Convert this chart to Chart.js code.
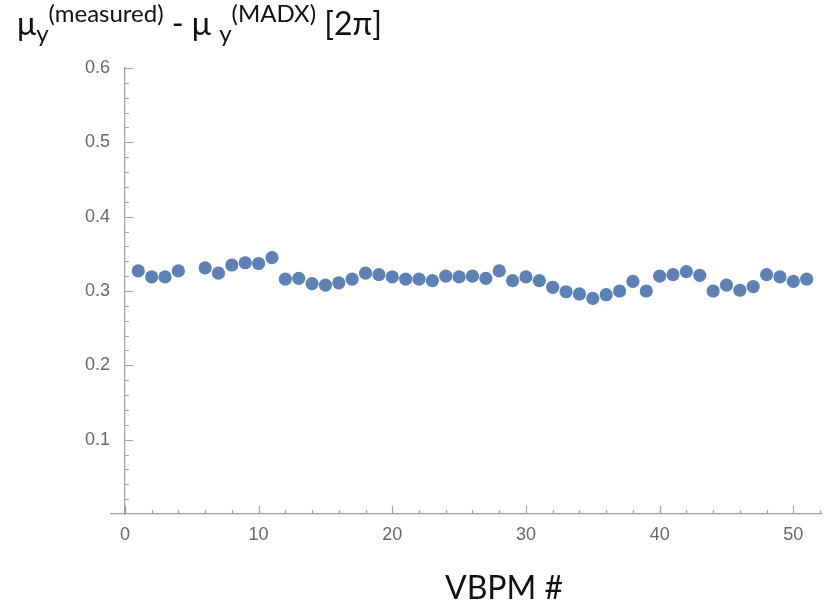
<!DOCTYPE html>
<html>
<head>
<meta charset="utf-8">
<script src="https://cdn.jsdelivr.net/npm/chart.js@4"></script>
<style>
  html, body { margin: 0; padding: 0; background: #fff; }
  #wrap { position: relative; width: 828px; height: 604px; }
  canvas { position: absolute; left: 0; top: 0; }
  .ttl { position: absolute; font-family: Lato, "Open Sans", sans-serif; color: #111; white-space: nowrap; line-height: 1; }
  .ttl sub, .ttl sup { font-size: 24px; line-height: 0; }
  .ttl sub { vertical-align: -7px; }
  .ttl sup { vertical-align: 13px; }
</style>
</head>
<body>
<div id="wrap">
  <canvas id="chart" width="828" height="604"></canvas>
  <div class="ttl" style="left:17px; top:7px; font-size:32px;">μ<sub>y</sub><sup>(measured)</sup> - μ <sub>y</sub><sup>(MADX)</sup> [2π]</div>
  <div class="ttl" style="left:445px; top:571px; font-size:32px;">VBPM #</div>
</div>
<script>
// VBPM index (no point at 5)
const bpm = [1, 2, 3, 4, 6, 7, 8, 9, 10, 11, 12, 13, 14, 15, 16, 17, 18, 19, 20, 21,
             22, 23, 24, 25, 26, 27, 28, 29, 30, 31, 32, 33, 34, 35, 36, 37, 38, 39, 40, 41,
             42, 43, 44, 45, 46, 47, 48, 49, 50, 51];
// measured - MADX phase advance [2pi]
const dmu = [0.327, 0.319, 0.319, 0.327, 0.331, 0.324, 0.335, 0.338, 0.337, 0.345, 0.316, 0.317, 0.310, 0.308, 0.311, 0.316, 0.324, 0.322, 0.319, 0.316,
             0.316, 0.314, 0.320, 0.319, 0.320, 0.317, 0.327, 0.314, 0.319, 0.314, 0.305, 0.299, 0.296, 0.290, 0.295, 0.300, 0.313, 0.300, 0.320, 0.322,
             0.326, 0.321, 0.300, 0.308, 0.301, 0.306, 0.322, 0.319, 0.313, 0.316];
const xTicks = [0, 10, 20, 30, 40, 50];
const yTicks = [0.1, 0.2, 0.3, 0.4, 0.5, 0.6];

const xMin = -1.04, xMax = 52.1;
const yMin = 0, yMax = 0.6;
const axisColor = '#a0a0a0';
const labelFont = { family: '"Liberation Sans", Arial, sans-serif', size: 18 };

// small inward tick marks like the original plot
const tickMarks = {
  id: 'tickMarks',
  beforeDatasetsDraw(chart) {
    const { ctx, scales: { x, y } } = chart;
    const x0 = x.getPixelForValue(0);
    const yb = y.getPixelForValue(yMin);
    ctx.save();
    ctx.strokeStyle = axisColor;
    ctx.lineWidth = 1.2;
    ctx.beginPath();
    for (let v = 0; v <= xMax; v += 2) {
      const px = Math.round(x.getPixelForValue(v)) + 0.5;
      const len = v % 10 === 0 ? 8 : 4;
      ctx.moveTo(px, yb);
      ctx.lineTo(px, yb - len);
    }
    for (let i = 1; i <= 30; i++) {
      const py = Math.round(y.getPixelForValue(i * 0.02)) + 0.5;
      const len = i % 5 === 0 ? 8 : 4;
      ctx.moveTo(x0, py);
      ctx.lineTo(x0 + len, py);
    }
    ctx.stroke();
    ctx.restore();
  }
};

new Chart(document.getElementById('chart'), {
  type: 'scatter',
  data: {
    datasets: [{
      data: bpm.map((b, i) => ({ x: b, y: dmu[i] })),
      backgroundColor: '#5e81b5',
      borderWidth: 0,
      pointRadius: 6.6,
      pointHoverRadius: 6.6
    }]
  },
  options: {
    responsive: false,
    animation: false,
    events: [],
    layout: { padding: { left: 111, right: -7, top: 68, bottom: 90 } },
    plugins: { legend: { display: false }, tooltip: { enabled: false } },
    scales: {
      x: {
        type: 'linear',
        min: xMin,
        max: xMax,
        position: { y: yMin },
        afterBuildTicks: s => { s.ticks = xTicks.map(v => ({ value: v })); },
        grid: { display: false, drawTicks: false },
        border: { display: true, color: axisColor, width: 1.3 },
        ticks: { padding: 10, color: '#686868', font: labelFont }
      },
      y: {
        type: 'linear',
        min: yMin,
        max: yMax,
        position: { x: 0 },
        afterBuildTicks: s => { s.ticks = yTicks.map(v => ({ value: v })); },
        grid: { display: false, drawTicks: false },
        border: { display: true, color: axisColor, width: 1.3 },
        ticks: {
          color: '#686868',
          font: labelFont,
          // labels sit on the axis line when it is placed at x = 0, so pad them with spaces
          callback: v => v.toFixed(1) + '   '
        }
      }
    }
  },
  plugins: [tickMarks]
});
</script>
</body>
</html>
